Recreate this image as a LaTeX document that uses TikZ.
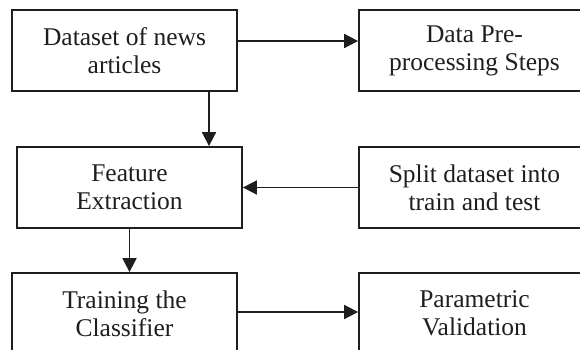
\documentclass[tikz,border=0pt]{standalone}
\usepackage{fontspec}
\setmainfont{Liberation Serif}
\usetikzlibrary{arrows.meta}
\definecolor{ink}{HTML}{1E1E1E}
\tikzset{
  stepbox/.style={draw=ink, line width=1.8pt, rectangle, inner sep=0pt,
    minimum height=81pt, align=center, text=ink,
    font=\fontsize{25.5}{28}\selectfont},
  leftbox/.style={stepbox, minimum width=225pt},
  rightbox/.style={stepbox, minimum width=231pt},
  flow/.style={draw=ink, line width=1.8pt,
    -{Triangle[length=14pt,width=14pt]}}
}
\begin{document}
\begin{tikzpicture}[x=1pt,y=-1pt]
  \useasboundingbox (0,0) rectangle (580,350);
  \clip (0,0) rectangle (580,350);
  % left column
  \node[leftbox]  (ds) at (124.5,50.5)  {Dataset of news\\articles};
  \node[leftbox]  (fe) at (129.5,187.5) {Feature\\Extraction};
  \node[leftbox]  (tr) at (124.5,313.5) {Training the\\Classifier};
  % right column
  \node[rightbox] (dp) at (474.5,50.5)  {Data Pre-\\processing Steps};
  \node[rightbox] (sp) at (474.5,187.5) {Split dataset into\\train and test};
  \node[rightbox] (pv) at (474.5,313.5) {Parametric\\Validation};
  % connectors
  \draw[flow] ([yshift=9.5pt]ds.east) -- ([yshift=9.5pt]ds.east -| dp.west);
  \draw[flow] ([xshift=84.5pt]ds.south) -- ([xshift=84.5pt]ds.south |- fe.north);
  \draw[flow] (sp.west) -- (sp.west -| fe.east);
  \draw[flow] (fe.south) -- (fe.south |- tr.north);
  \draw[flow] ([yshift=1.5pt]tr.east) -- ([yshift=1.5pt]tr.east -| pv.west);
\end{tikzpicture}
\end{document}
